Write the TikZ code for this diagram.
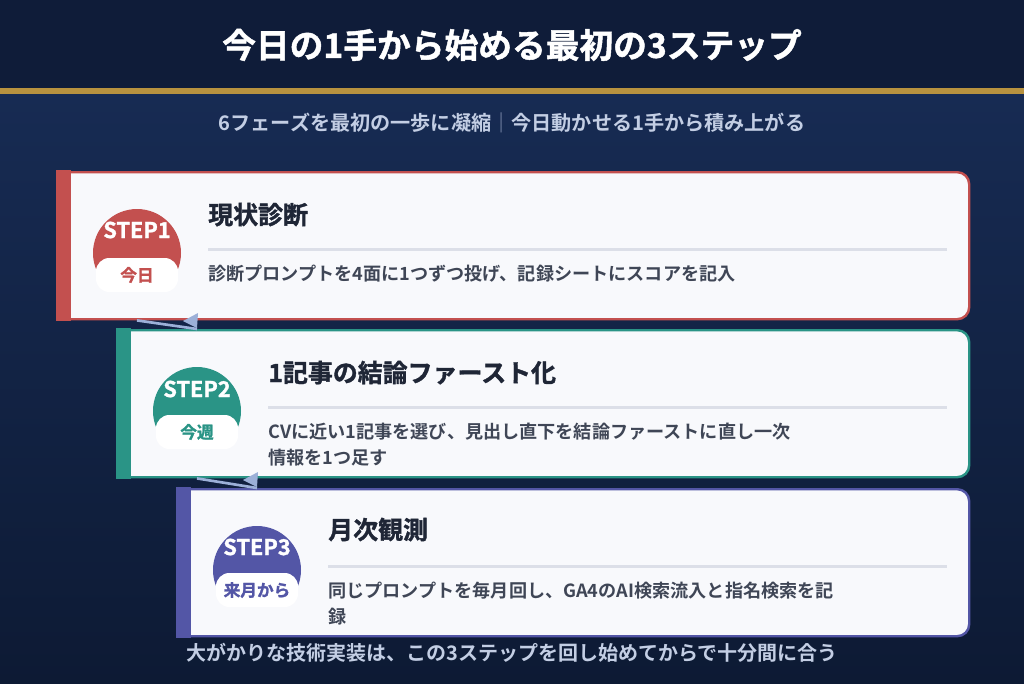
\documentclass[tikz,border=0pt]{standalone}
\usepackage{fontspec}
\setmainfont{Noto Sans CJK JP}[BoldFont=* Bold]
\newfontfamily\heavyfont{Noto Sans CJK JP}[UprightFont=* Bold,FakeBold=1.4]
\usepackage{tikz}
\usetikzlibrary{positioning,calc}
\definecolor{navytop}{HTML}{0F1C39}
\definecolor{navymid}{HTML}{172B53}
\definecolor{navybot}{HTML}{0D1A34}
\definecolor{gold}{HTML}{B8923F}
\definecolor{subtxt}{HTML}{C3CEE4}
\definecolor{septxt}{HTML}{7F8DAD}
\definecolor{cardbg}{HTML}{F8F9FC}
\definecolor{stepred}{HTML}{C3504F}
\definecolor{stepteal}{HTML}{2A9486}
\definecolor{stepblue}{HTML}{5356A6}
\definecolor{headtxt}{HTML}{1F2636}
\definecolor{bodytxt}{HTML}{3F4656}
\definecolor{rulegray}{HTML}{DCDFE8}
\definecolor{arrowblue}{HTML}{9CB0D8}

\begin{document}
\begin{tikzpicture}[x=0.75pt,y=-0.75pt,
  card/.style={draw=#1,line width=1.8pt,fill=cardbg,rounded corners=9pt,anchor=north west,minimum height=110.25pt,inner sep=0pt},
  dot/.style={circle,fill=#1,minimum size=66pt,inner sep=0pt},
  pill/.style={fill=white,rounded corners=10pt,minimum width=61.5pt,minimum height=25.5pt,inner sep=0pt,text=#1,font=\heavyfont\fontsize{12.5}{12.5}\selectfont},
  steplabel/.style={text=white,inner sep=0pt,font=\heavyfont\fontsize{16.3}{16.3}\selectfont},
  head/.style={anchor=base west,inner sep=0pt,text=headtxt,font=\heavyfont\fontsize{18.7}{18.7}\selectfont},
  body/.style={anchor=base west,inner sep=0pt,align=left,text=bodytxt,font=\bfseries\fontsize{13.6}{19.5}\selectfont},
  sep/.style={draw=rulegray,line width=2.25pt},
  conn/.style={draw=arrowblue,line width=2pt}]
\useasboundingbox (0,0) rectangle (1024,683);

% background
\fill[navytop] (0,0) rectangle (1024,88);
\fill[gold] (0,88) rectangle (1024,94);
\shade[top color=navymid,bottom color=navybot] (0,94) rectangle (1024,683);

\node[text=white,font=\heavyfont\fontsize{25.3}{25.3}\selectfont] (title) at (512,45) {今日の1手から始める最初の3ステップ};
\node[text=subtxt,font=\bfseries\fontsize{15.1}{15.1}\selectfont] (subtitle) at (512,123) {6フェーズを最初の一歩に凝縮{\color{septxt}｜}今日動かせる1手から積み上がる};

% step 1
\node[card=stepred,minimum width=683.25pt] (card1) at (57,171) {};
\fill[stepred] ([shift={(-1,-1)}]card1.north west) rectangle ([shift={(14,1)}]card1.south west);
\begin{scope}
\clip ([shift={(30,0)}]card1.north west) rectangle ([shift={(130,104)}]card1.north west);
\node[dot=stepred] (dot1) at ([shift={(80,82)}]card1.north west) {};
\end{scope}
\node[steplabel] (st1) at ([shift={(80,59)}]card1.north west) {STEP1};
\node[pill=stepred] (pill1) at ([shift={(80,104)}]card1.north west) {今日};
\node[head] (h1) at ([shift={(151,53)}]card1.north west) {現状診断};
\draw[sep] ([shift={(151,78)}]card1.north west) -- ([shift={(-23,78)}]card1.north east);
\node[body] (b1) at ([shift={(151,109)}]card1.north west) {診断プロンプトを4面に1つずつ投げ、記録シートにスコアを記入};

% step 2
\node[card=stepteal,minimum width=638.25pt] (card2) at (117,329) {};
\fill[stepteal] ([shift={(-1,-1)}]card2.north west) rectangle ([shift={(14,1)}]card2.south west);
\begin{scope}
\clip ([shift={(30,0)}]card2.north west) rectangle ([shift={(130,104)}]card2.north west);
\node[dot=stepteal] (dot2) at ([shift={(80,82)}]card2.north west) {};
\end{scope}
\node[steplabel] (st2) at ([shift={(80,60)}]card2.north west) {STEP2};
\node[pill=stepteal] (pill2) at ([shift={(80,103)}]card2.north west) {今週};
\node[head] (h2) at ([shift={(151,53)}]card2.north west) {1記事の結論ファースト化};
\draw[sep] ([shift={(151,78)}]card2.north west) -- ([shift={(-23,78)}]card2.north east);
\node[body] (b2) at ([shift={(151,135)}]card2.north west) {CVに近い1記事を選び、見出し直下を結論ファーストに直し一次\\情報を1つ足す};

% step 3
\node[card=stepblue,minimum width=593.25pt] (card3) at (177,488) {};
\fill[stepblue] ([shift={(-1,-1)}]card3.north west) rectangle ([shift={(14,1)}]card3.south west);
\begin{scope}
\clip ([shift={(30,0)}]card3.north west) rectangle ([shift={(130,104)}]card3.north west);
\node[dot=stepblue] (dot3) at ([shift={(80,82)}]card3.north west) {};
\end{scope}
\node[steplabel] (st3) at ([shift={(80,59)}]card3.north west) {STEP3};
\node[pill=stepblue] (pill3) at ([shift={(80,102)}]card3.north west) {来月から};
\node[head] (h3) at ([shift={(151,51)}]card3.north west) {月次観測};
\draw[sep] ([shift={(151,78)}]card3.north west) -- ([shift={(-23,78)}]card3.north east);
\node[body] (b3) at ([shift={(151,135)}]card3.north west) {同じプロンプトを毎月回し、GA4のAI検索流入と指名検索を記\\録};

% connectors
\coordinate (c1s) at (dot1 |- card1.south);
\coordinate (c1e) at (dot2 |- card2.north);
\draw[conn] (c1s) -- (c1e);
\fill[arrowblue] ([shift={(-14,-8)}]c1e) -- ([shift={(1,-16)}]c1e) -- ([shift={(0,-1)}]c1e) -- cycle;
\coordinate (c2s) at (dot2 |- card2.south);
\coordinate (c2e) at (dot3 |- card3.north);
\draw[conn] (c2s) -- (c2e);
\fill[arrowblue] ([shift={(-14,-8)}]c2e) -- ([shift={(1,-16)}]c2e) -- ([shift={(0,-1)}]c2e) -- cycle;

\node[text=subtxt,font=\bfseries\fontsize{15}{15}\selectfont] (note) at (512,653) {大がかりな技術実装は、この3ステップを回し始めてからで十分間に合う};
\end{tikzpicture}
\end{document}
